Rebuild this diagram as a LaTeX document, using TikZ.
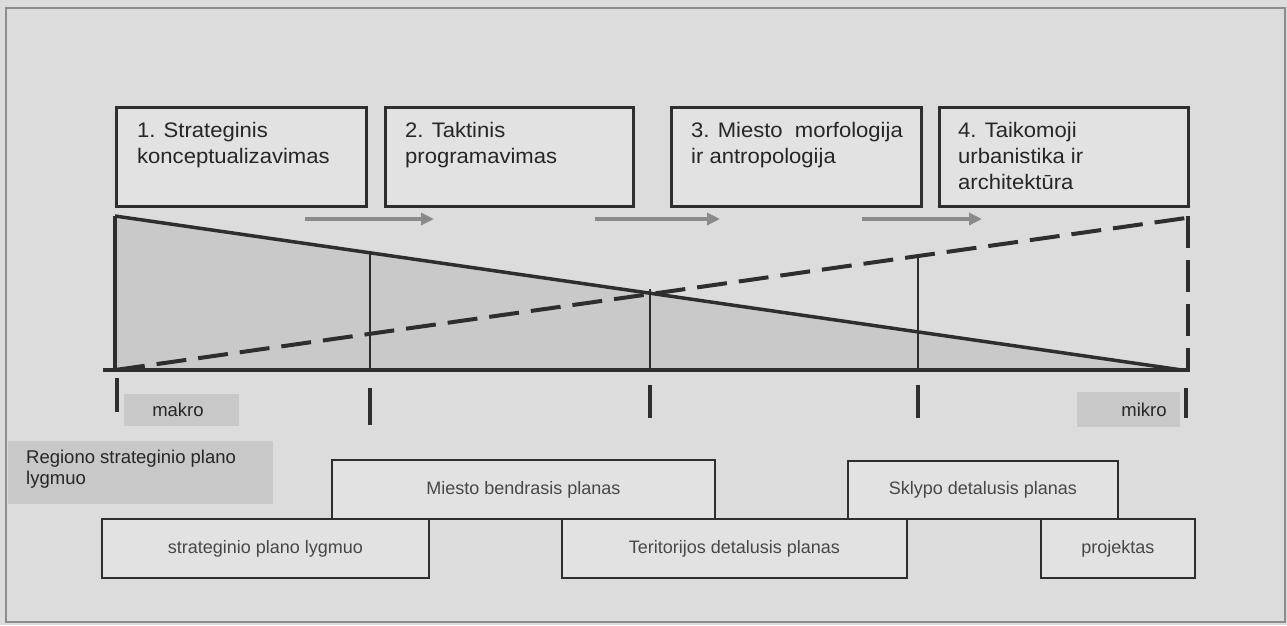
\documentclass[tikz,border=0pt]{standalone}
\usepackage{fontspec}
\setmainfont{Liberation Sans}
\newfontfamily\wideface{Liberation Sans}[FakeStretch=1.05]
\usetikzlibrary{arrows.meta}
\definecolor{bgc}{HTML}{DCDCDC}
\definecolor{boxc}{HTML}{E2E2E2}
\definecolor{shadec}{HTML}{C9C9C9}
\definecolor{patchc}{HTML}{C8C8C8}
\definecolor{linec}{HTML}{2E2E2E}
\definecolor{arrowc}{HTML}{8A8A8A}
\definecolor{framec}{HTML}{8C8C8C}
\tikzset{
  topbox/.style={draw=linec, line width=2.5pt, fill=boxc, anchor=north west, inner sep=0pt},
  toptext/.style={anchor=north west, align=left, inner sep=0pt, text=black!85, font=\wideface\fontsize{21}{26}\selectfont},
  lowbox/.style={draw=linec, line width=1.8pt, fill=boxc, inner sep=0pt, font=\fontsize{18}{21}\selectfont, text=black!72},
  garrow/.style={draw=arrowc, line width=4.5pt, -{Triangle[length=13pt,width=12pt]}},
  mainline/.style={draw=linec, line width=3.5pt},
  thinline/.style={draw=linec, line width=1.4pt},
  dashline/.style={draw=linec, line width=4pt, dash pattern=on 30pt off 12pt},
  tickline/.style={draw=linec, line width=3.5pt},
  lbl/.style={inner sep=0pt, font=\fontsize{18.5}{21}\selectfont, text=black!85},
}
\begin{document}
\begin{tikzpicture}[x=1pt,y=-1pt]
\useasboundingbox (0,0) rectangle (1287,625);
\fill[bgc] (0,0) rectangle (1287,625);
\draw[framec, line width=2pt] (6,8) rectangle (1285,622);

% top boxes
\node[topbox, minimum width=250pt, minimum height=99pt] (b1) at (115,106) {};
\node[topbox, minimum width=248pt, minimum height=99pt] (b2) at (384,106) {};
\node[topbox, minimum width=250pt, minimum height=99pt] (b3) at (670,106) {};
\node[topbox, minimum width=249pt, minimum height=99pt] (b4) at (938,106) {};
\node[toptext] (t1) at (137,122) {1. Strateginis\\konceptualizavimas};
\node[toptext] (t2) at (405,122) {2. Taktinis\\programavimas};
\node[toptext] (t3) at (691,122) {3. Miesto\ \ morfologija\\ir antropologija};
\node[toptext] (t4) at (958,122) {4. Taikomoji\\urbanistika ir\\architektūra};

% grey arrows
\coordinate (a1s) at (305,219); \coordinate (a1e) at (434,219);
\coordinate (a2s) at (595,219); \coordinate (a2e) at (720,219);
\coordinate (a3s) at (862,219); \coordinate (a3e) at (982,219);
\draw[garrow] (a1s) -- (a1e);
\draw[garrow] (a2s) -- (a2e);
\draw[garrow] (a3s) -- (a3e);

% triangle
\coordinate (TL) at (115,216);
\coordinate (BL) at (115,370);
\coordinate (BR) at (1182,370);
\coordinate (DR) at (1186,218);
\coordinate (X0) at (103,370);
\coordinate (X1) at (1190,370);
\fill[shadec] (TL) -- (BR) -- (BL) -- cycle;
\coordinate (v1t) at (370,253); \coordinate (v1b) at (370,370);
\coordinate (v2t) at (650,289); \coordinate (v2b) at (650,370);
\coordinate (v3t) at (918,256); \coordinate (v3b) at (918,370);
\draw[thinline] (v1t) -- (v1b);
\draw[thinline] (v2t) -- (v2b);
\draw[thinline] (v3t) -- (v3b);
\draw[mainline] (TL) -- (BR);
\draw[mainline] (TL) -- (BL);
\draw[mainline] (X0) -- (X1);
\draw[dashline] (BL) -- (DR);
\coordinate (rvt) at (1188,216);
\coordinate (rvb) at (1188,370);
\draw[dashline, line width=3.5pt, dash pattern=on 32pt off 12pt] (rvt) -- (rvb);

% ticks
\coordinate (k1a) at (117,378); \coordinate (k1b) at (117,412);
\coordinate (k2a) at (370,388); \coordinate (k2b) at (370,425);
\coordinate (k3a) at (650,385); \coordinate (k3b) at (650,418);
\coordinate (k4a) at (918,385); \coordinate (k4b) at (918,418);
\coordinate (k5a) at (1186,388); \coordinate (k5b) at (1186,418);
\draw[tickline] (k1a) -- (k1b);
\draw[tickline] (k2a) -- (k2b);
\draw[tickline] (k3a) -- (k3b);
\draw[tickline] (k4a) -- (k4b);
\draw[tickline] (k5a) -- (k5b);

% labels with patches
\fill[patchc] (124,394) rectangle (239,426);
\fill[patchc] (1077,392) rectangle (1180,427);
\fill[patchc] (8,441) rectangle (273,504);
\node[lbl] (makro) at (178,410) {makro};
\node[lbl] (mikro) at (1144,410) {mikro};
\node[lbl, anchor=north west, align=left] (reg) at (26,450) {Regiono strateginio plano\\lygmuo};

% lower boxes
\node[lowbox, anchor=north west, minimum width=383pt, minimum height=59pt] (mb) at (331,459) {Miesto bendrasis planas};
\node[lowbox, anchor=north west, minimum width=270pt, minimum height=58pt] (sd) at (847,460) {Sklypo detalusis planas};
\node[lowbox, anchor=north west, minimum width=327pt, minimum height=59pt] (sp) at (101,518) {strateginio plano lygmuo};
\node[lowbox, anchor=north west, minimum width=345pt, minimum height=59pt] (td) at (561,518) {Teritorijos detalusis planas};
\node[lowbox, anchor=north west, minimum width=154pt, minimum height=59pt] (pr) at (1040,518) {projektas};
\end{tikzpicture}
\end{document}
